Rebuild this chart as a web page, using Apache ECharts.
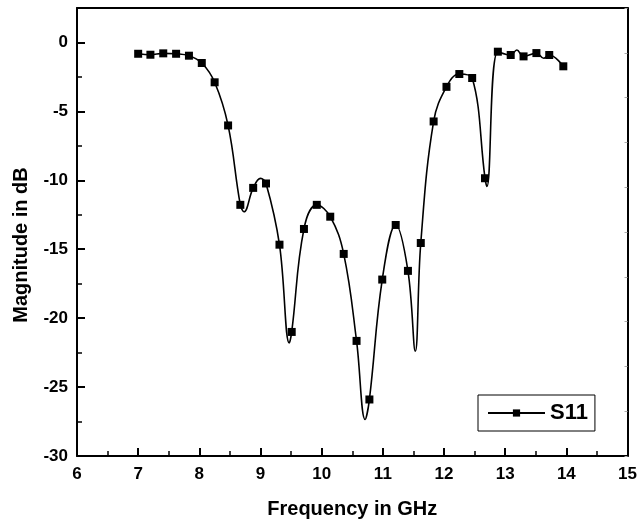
<!DOCTYPE html>
<html>
<head>
<meta charset="utf-8">
<script src="https://cdn.jsdelivr.net/npm/echarts@6/dist/echarts.min.js"></script>
<style>html,body{margin:0;padding:0;background:#fff}#c{width:640px;height:524px}</style>
</head>
<body>
<div id="c"></div>
<script>
// Marker points (GHz, dB)
var freq = [7.00, 7.20, 7.41, 7.62, 7.83, 8.04, 8.25, 8.47, 8.67, 8.88, 9.09, 9.31, 9.51, 9.71, 9.92, 10.14, 10.36, 10.57, 10.78, 10.99, 11.21, 11.41, 11.62, 11.83, 12.04, 12.25, 12.46, 12.67, 12.88, 13.09, 13.30, 13.51, 13.72, 13.95];
var s11 = [-0.82, -0.89, -0.79, -0.82, -0.96, -1.49, -2.89, -6.02, -11.78, -10.55, -10.23, -14.67, -21.0, -13.53, -11.78, -12.64, -15.34, -21.65, -25.9, -17.2, -13.24, -16.57, -14.55, -5.73, -3.22, -2.29, -2.58, -9.85, -0.67, -0.91, -1.01, -0.77, -0.91, -1.73];
// Extra curve points (extrema of the continuous trace, no marker)
var curveFreq = [8.73, 9.00, 9.47, 10.71, 11.53, 12.70, 13.19, 13.63];
var curveS11 = [-12.28, -9.86, -21.8, -27.35, -22.4, -10.45, -0.55, -1.15];
// Axis ticks
var xTicks = [6, 7, 8, 9, 10, 11, 12, 13, 14, 15];
var yTicks = [-30, -25, -20, -15, -10, -5, 0];

var pts = [];
freq.forEach(function (f, i) { pts.push({ value: [f, s11[i]] }); });
curveFreq.forEach(function (f, i) { pts.push({ value: [f, curveS11[i]], symbol: 'none' }); });
pts.sort(function (a, b) { return a.value[0] - b.value[0]; });

var font = 'Liberation Sans, Arial, sans-serif';
var chart = echarts.init(document.getElementById('c'), null, { renderer: 'canvas' });
chart.setOption({
  animation: false,
  backgroundColor: '#fff',
  grid: { left: 77, right: 12, top: 8, bottom: 66 },
  legend: {
    left: 478, top: 395,
    padding: [7, 7, 7, 9],
    borderColor: '#000', borderWidth: 1, borderRadius: 0,
    itemWidth: 57, itemHeight: 9, itemGap: 4,
    textStyle: { fontFamily: font, fontWeight: 'bold', fontSize: 22, color: '#000', padding: [0, 0, 0, 0] },
    data: ['S11']
  },
  xAxis: [{
    type: 'value', min: xTicks[0], max: xTicks[xTicks.length - 1], interval: 1,
    name: 'Frequency in GHz', nameLocation: 'middle', nameGap: 43,
    nameTextStyle: { fontFamily: font, fontWeight: 'bold', fontSize: 20, color: '#000' },
    axisLine: { onZero: false, lineStyle: { color: '#000', width: 2 } },
    axisTick: { inside: true, length: 8, lineStyle: { color: '#000', width: 2 } },
    minorTick: { show: true, splitNumber: 2, length: 5, lineStyle: { color: '#000', width: 1.5 } },
    axisLabel: { margin: 10, fontFamily: font, fontWeight: 'bold', fontSize: 17, color: '#000' },
    splitLine: { show: false }
  }, {
    type: 'value', position: 'top', min: 6, max: 15,
    axisLine: { onZero: false, lineStyle: { color: '#000', width: 2 } },
    axisTick: { show: false }, axisLabel: { show: false }, splitLine: { show: false }
  }],
  yAxis: [{
    type: 'value', min: yTicks[0], max: 2.5, interval: 5,
    name: 'Magnitude in dB', nameLocation: 'middle', nameGap: 46,
    nameTextStyle: { fontFamily: font, fontWeight: 'bold', fontSize: 20, color: '#000', padding: [0, 0, 0, -26] },
    axisLine: { onZero: false, lineStyle: { color: '#000', width: 2 } },
    axisTick: { inside: true, length: 8, lineStyle: { color: '#000', width: 2 } },
    minorTick: { show: true, splitNumber: 2, length: 5, lineStyle: { color: '#000', width: 1.5 } },
    axisLabel: { margin: 9, showMaxLabel: false, fontFamily: font, fontWeight: 'bold', fontSize: 17, color: '#000',
      formatter: function (v) { return yTicks.indexOf(v) >= 0 ? String(v) : ''; } },
    splitLine: { show: false }
  }, {
    type: 'value', position: 'right', min: 0, max: 10, interval: 1,
    axisLine: { show: true, onZero: false, lineStyle: { color: '#000', width: 2 } },
    axisTick: { inside: true, length: 3, lineStyle: { color: '#aaa', width: 1 } },
    axisLabel: { show: false }, splitLine: { show: false }
  }],
  series: [{
    name: 'S11', type: 'line', xAxisIndex: 0, yAxisIndex: 0,
    data: pts,
    smooth: 0.4,
    symbol: 'rect', symbolSize: 8, showAllSymbol: true,
    lineStyle: { color: '#000', width: 1.6 },
    itemStyle: { color: '#000' },
    z: 3
  }]
});
</script>
</body>
</html>
